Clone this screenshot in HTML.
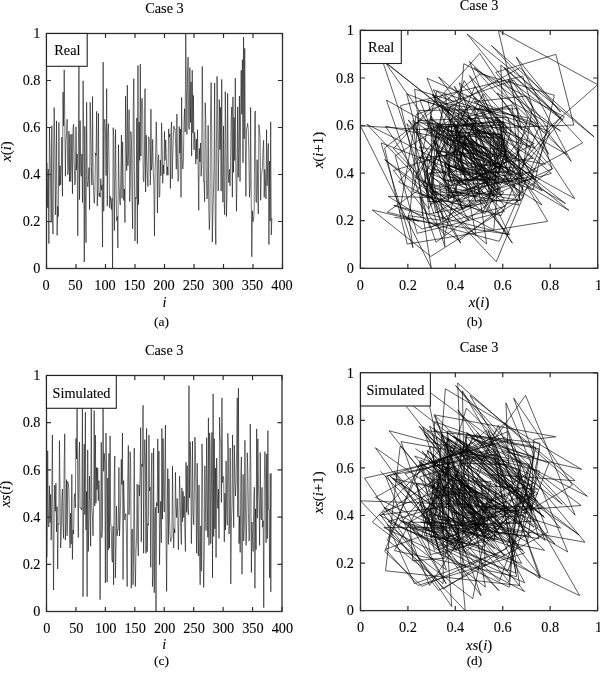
<!DOCTYPE html><html><head><meta charset="utf-8"><style>html,body{margin:0;padding:0;background:#fff;}svg{display:block;}text{stroke:#000;stroke-width:0.1px;}</style></head><body>
<svg width="600" height="685" viewBox="0 0 600 685" font-family="'Liberation Serif', 'Times New Roman', serif" font-size="14.3" fill="#000">
<rect width="600" height="685" fill="#fff"/>
<clipPath id="clipa"><rect x="46.5" y="33.5" width="236.0" height="235.0"/></clipPath>
<path d="M47.09,162.87 L47.68,207.78 L48.27,169.17 L48.86,243.66 L49.45,128.04 L50.04,152.60 L50.63,185.00 L51.22,222.56 L51.81,125.69 L52.40,212.29 L52.99,234.03 L53.58,157.34 L54.17,107.55 L54.76,145.24 L55.35,214.78 L55.94,178.50 L56.53,120.87 L57.12,235.44 L57.71,206.37 L58.30,216.52 L58.89,122.42 L59.48,185.90 L60.07,165.76 L60.66,184.84 L61.25,166.82 L61.84,137.13 L62.43,196.38 L63.02,92.16 L63.61,126.04 L64.20,69.90 L64.79,119.44 L65.38,176.26 L65.97,140.28 L66.56,133.42 L67.15,119.28 L67.74,174.64 L68.33,169.19 L68.92,131.19 L69.51,181.46 L70.10,134.48 L70.69,181.50 L71.28,167.12 L71.87,133.99 L72.46,193.77 L73.05,127.29 L73.64,124.19 L74.23,163.67 L74.82,185.00 L75.41,181.20 L76.00,126.80 L76.59,170.06 L77.18,154.01 L77.77,235.79 L78.36,150.27 L78.95,56.25 L79.54,199.67 L80.13,120.69 L80.72,172.76 L81.31,176.26 L81.90,153.98 L82.49,202.51 L83.08,80.76 L83.67,133.96 L84.26,262.04 L84.85,126.35 L85.44,193.65 L86.03,242.77 L86.62,102.31 L87.21,181.60 L87.80,186.77 L88.39,180.52 L88.98,167.61 L89.57,209.51 L90.16,102.31 L90.75,130.65 L91.34,167.40 L91.93,185.00 L92.52,96.53 L93.11,177.30 L93.70,193.61 L94.29,203.38 L94.88,192.27 L95.47,152.97 L96.06,155.39 L96.65,111.40 L97.24,206.01 L97.83,187.19 L98.42,113.33 L99.01,196.26 L99.60,192.90 L100.19,197.27 L100.78,178.71 L101.37,190.06 L101.96,184.79 L102.55,247.16 L103.14,62.03 L103.73,211.28 L104.32,122.52 L104.91,119.28 L105.50,131.85 L106.09,175.60 L106.68,88.65 L107.27,206.01 L107.86,130.88 L108.45,123.65 L109.04,161.97 L109.63,207.78 L110.22,196.14 L110.81,200.91 L111.40,209.51 L111.99,198.26 L112.58,268.50 L113.17,127.69 L113.76,136.38 L114.35,230.52 L114.94,183.17 L115.53,129.43 L116.12,190.27 L116.71,220.75 L117.30,216.49 L117.89,248.03 L118.48,144.66 L119.07,183.29 L119.66,199.01 L120.25,205.14 L120.84,174.95 L121.43,135.04 L122.02,198.33 L122.61,141.86 L123.20,182.40 L123.79,200.56 L124.38,188.88 L124.97,222.65 L125.56,96.17 L126.15,145.08 L126.74,170.65 L127.33,85.15 L127.92,165.76 L128.51,150.69 L129.10,109.64 L129.69,201.64 L130.28,184.98 L130.87,131.54 L131.46,140.66 L132.05,199.88 L132.64,228.78 L133.23,107.76 L133.82,78.67 L134.41,170.50 L135.00,241.03 L135.59,197.34 L136.18,198.68 L136.77,117.98 L137.36,243.66 L137.95,65.48 L138.54,204.56 L139.13,121.93 L139.72,160.49 L140.31,64.14 L140.90,156.01 L141.49,103.98 L142.08,98.27 L142.67,109.03 L143.26,179.76 L143.85,181.78 L144.44,155.11 L145.03,88.65 L145.62,192.01 L146.21,135.04 L146.80,159.20 L147.39,178.35 L147.98,186.49 L148.57,136.78 L149.16,139.44 L149.75,140.66 L150.34,185.00 L150.93,109.12 L151.52,170.11 L152.11,164.00 L152.70,139.41 L153.29,172.53 L153.88,184.96 L154.47,235.79 L155.06,171.92 L155.65,152.74 L156.24,121.91 L156.83,146.84 L157.42,213.02 L158.01,159.69 L158.60,154.90 L159.19,197.27 L159.78,195.46 L160.37,159.93 L160.96,175.79 L161.55,122.78 L162.14,142.87 L162.73,183.27 L163.32,164.94 L163.91,173.91 L164.50,131.47 L165.09,160.49 L165.68,139.93 L166.27,153.44 L166.86,175.39 L167.45,166.79 L168.04,175.16 L168.63,128.79 L169.22,137.09 L169.81,133.96 L170.40,188.51 L170.99,130.46 L171.58,121.91 L172.17,178.89 L172.76,157.23 L173.35,135.04 L173.94,126.14 L174.53,129.03 L175.12,128.91 L175.71,147.33 L176.30,169.26 L176.89,114.03 L177.48,158.73 L178.07,181.39 L178.66,178.05 L179.25,126.49 L179.84,153.23 L180.43,128.91 L181.02,197.27 L181.61,97.40 L182.20,159.81 L182.79,169.00 L183.38,162.26 L183.97,122.54 L184.56,108.77 L185.15,131.89 L185.74,33.50 L186.33,87.08 L186.92,134.43 L187.51,74.93 L188.10,57.14 L188.69,127.01 L189.28,129.45 L189.87,67.65 L190.46,122.47 L191.05,81.82 L191.64,155.84 L192.23,70.25 L192.82,132.91 L193.41,95.38 L194.00,149.87 L194.59,132.36 L195.18,140.28 L195.77,164.00 L196.36,139.09 L196.95,159.06 L197.54,129.78 L198.13,166.63 L198.72,210.38 L199.31,148.51 L199.90,161.76 L200.49,142.92 L201.08,176.26 L201.67,166.06 L202.26,66.40 L202.85,118.81 L203.44,181.50 L204.03,181.22 L204.62,201.64 L205.21,102.64 L205.80,119.86 L206.39,179.53 L206.98,199.03 L207.57,192.01 L208.16,125.41 L208.75,207.33 L209.34,229.65 L209.93,213.18 L210.52,116.64 L211.11,82.52 L211.70,131.03 L212.29,241.90 L212.88,212.90 L213.47,192.59 L214.06,165.76 L214.65,83.04 L215.24,222.13 L215.83,244.53 L216.42,149.66 L217.01,76.39 L217.60,97.56 L218.19,190.90 L218.78,155.25 L219.37,99.68 L219.96,149.64 L220.55,107.34 L221.14,191.14 L221.73,79.37 L222.32,174.69 L222.91,202.16 L223.50,125.93 L224.09,200.16 L224.68,214.78 L225.27,91.62 L225.86,129.17 L226.45,216.52 L227.04,192.88 L227.63,93.38 L228.22,172.76 L228.81,182.61 L229.40,169.33 L229.99,185.90 L230.58,160.87 L231.17,118.48 L231.76,107.03 L232.35,197.27 L232.94,96.88 L233.53,172.43 L234.12,117.61 L234.71,160.49 L235.30,78.15 L235.89,169.92 L236.48,211.28 L237.07,178.52 L237.66,106.89 L238.25,177.23 L238.84,146.32 L239.43,95.96 L240.02,181.50 L240.61,110.53 L241.20,70.25 L241.79,114.25 L242.38,59.75 L242.97,162.89 L243.56,37.00 L244.15,138.73 L244.74,48.38 L245.33,144.56 L245.92,196.38 L246.51,128.91 L247.10,126.89 L247.69,123.41 L248.28,129.78 L248.87,154.20 L249.46,197.27 L250.05,186.77 L250.64,107.38 L251.23,198.75 L251.82,256.77 L252.41,210.85 L253.00,221.78 L253.59,219.10 L254.18,210.64 L254.77,112.69 L255.36,110.89 L255.95,201.34 L256.54,202.51 L257.13,159.72 L257.72,193.70 L258.31,213.89 L258.90,124.54 L259.49,130.01 L260.08,137.37 L260.67,200.26 L261.26,174.52 L261.85,172.76 L262.44,166.70 L263.03,150.13 L263.62,140.28 L264.21,197.27 L264.80,169.40 L265.39,179.04 L265.98,199.01 L266.57,129.78 L267.16,185.80 L267.75,158.33 L268.34,143.43 L268.93,244.53 L269.52,161.08 L270.11,221.10 L270.70,121.91 L271.29,234.90 L271.88,218.09" fill="none" stroke="#000" stroke-width="0.55" stroke-linejoin="miter" clip-path="url(#clipa)"/>
<rect x="46.5" y="33.5" width="236.0" height="235.0" fill="none" stroke="#2e2e2e" stroke-width="1.3"/>
<text x="46.00" y="290.1" text-anchor="middle">0</text>
<text x="75.50" y="290.1" text-anchor="middle">50</text>
<text x="105.00" y="290.1" text-anchor="middle">100</text>
<text x="134.50" y="290.1" text-anchor="middle">150</text>
<text x="164.00" y="290.1" text-anchor="middle">200</text>
<text x="193.50" y="290.1" text-anchor="middle">250</text>
<text x="223.00" y="290.1" text-anchor="middle">300</text>
<text x="252.50" y="290.1" text-anchor="middle">350</text>
<text x="282.00" y="290.1" text-anchor="middle">400</text>
<text x="40.5" y="273.20" text-anchor="end">0</text>
<text x="40.5" y="226.20" text-anchor="end">0.2</text>
<text x="40.5" y="179.20" text-anchor="end">0.4</text>
<text x="40.5" y="132.20" text-anchor="end">0.6</text>
<text x="40.5" y="85.20" text-anchor="end">0.8</text>
<text x="40.5" y="38.20" text-anchor="end">1</text>
<path d="M46.50,268.5v-4.5M46.50,33.5v4.5M76.00,268.5v-4.5M76.00,33.5v4.5M105.50,268.5v-4.5M105.50,33.5v4.5M135.00,268.5v-4.5M135.00,33.5v4.5M164.50,268.5v-4.5M164.50,33.5v4.5M194.00,268.5v-4.5M194.00,33.5v4.5M223.50,268.5v-4.5M223.50,33.5v4.5M253.00,268.5v-4.5M253.00,33.5v4.5M282.50,268.5v-4.5M282.50,33.5v4.5M46.5,268.50h4.5M282.5,268.50h-4.5M46.5,221.50h4.5M282.5,221.50h-4.5M46.5,174.50h4.5M282.5,174.50h-4.5M46.5,127.50h4.5M282.5,127.50h-4.5M46.5,80.50h4.5M282.5,80.50h-4.5M46.5,33.50h4.5M282.5,33.50h-4.5" stroke="#2e2e2e" stroke-width="1.2" fill="none"/>
<rect x="46.5" y="33.5" width="40.7" height="32.8" fill="#fff" stroke="#222" stroke-width="1.1"/>
<text x="54.3" y="55.0">Real</text>
<text x="164.5" y="12.6" text-anchor="middle">Case 3</text>
<text x="164.5" y="306.6" text-anchor="middle" font-style="italic">i</text>
<text transform="translate(11.0,151.5) rotate(-90)" text-anchor="middle" font-size="14.9"><tspan font-style="italic">x</tspan>(<tspan font-style="italic">i</tspan>)</text>
<text x="161.5" y="326.4" text-anchor="middle" font-size="13.5">(a)</text>
<clipPath id="clipb"><rect x="360.4" y="30.4" width="237.3" height="237.9"/></clipPath>
<path d="M467.07,206.83 L421.72,167.74 L460.71,243.15 L385.48,126.11 L502.23,150.97 L477.44,183.77 L444.71,221.79 L406.79,123.73 L504.61,211.39 L417.16,233.40 L395.21,155.77 L472.64,105.36 L522.93,143.52 L484.86,213.92 L414.65,177.18 L451.29,118.85 L509.47,234.83 L393.79,205.40 L423.14,215.68 L412.89,120.42 L507.91,184.68 L443.81,164.29 L464.15,183.61 L444.88,165.36 L463.08,135.31 L493.05,195.29 L433.23,89.78 L538.47,124.09 L504.25,67.25 L560.94,117.40 L510.92,174.92 L453.54,138.50 L489.87,131.56 L496.80,117.23 L511.09,173.28 L455.18,167.76 L460.68,129.30 L499.05,180.18 L448.30,132.63 L495.73,180.23 L448.25,165.67 L462.77,132.13 L496.23,192.65 L435.86,125.35 L502.99,122.21 L506.13,162.17 L466.26,183.77 L444.71,179.92 L448.56,124.85 L503.49,168.64 L459.80,152.40 L476.01,235.18 L393.43,148.61 L479.79,53.43 L574.73,198.62 L429.91,118.66 L509.66,171.38 L457.08,174.92 L453.54,152.37 L476.04,201.50 L427.03,78.24 L549.98,132.10 L496.25,261.76 L366.93,124.39 L503.94,192.53 L435.98,242.25 L386.38,100.06 L528.22,180.32 L448.15,185.56 L442.93,179.23 L449.25,166.17 L462.27,208.59 L419.96,100.06 L528.22,128.75 L499.60,165.96 L462.49,183.77 L444.71,94.20 L534.06,175.97 L452.50,192.48 L436.03,202.38 L426.16,191.13 L437.38,151.35 L477.06,153.80 L474.61,109.26 L519.04,205.04 L423.50,185.99 L442.51,111.21 L517.09,195.17 L433.35,191.77 L436.74,196.19 L432.33,177.40 L451.07,188.89 L439.61,183.56 L444.93,246.70 L381.95,59.28 L568.89,210.37 L418.18,120.52 L507.81,117.23 L511.09,129.96 L498.39,174.26 L454.20,86.24 L542.01,205.04 L423.50,128.99 L499.36,121.66 L506.67,160.46 L467.97,206.83 L421.72,195.05 L433.46,199.88 L428.65,208.59 L419.96,197.19 L431.33,268.30 L360.40,125.75 L502.59,134.55 L493.81,229.86 L398.75,181.92 L446.56,127.51 L500.83,189.10 L439.40,219.96 L408.62,215.65 L412.91,247.58 L381.07,142.93 L485.46,182.04 L446.44,197.95 L430.57,204.16 L424.38,173.59 L454.87,133.20 L495.16,197.26 L431.26,140.10 L488.28,181.13 L447.35,199.52 L429.00,187.70 L440.80,221.89 L406.70,93.85 L534.41,143.35 L485.03,169.24 L459.21,82.69 L545.54,164.29 L464.15,149.04 L479.36,107.48 L520.81,200.62 L427.91,183.75 L444.74,129.65 L498.70,138.88 L489.49,198.83 L429.69,228.09 L400.50,105.58 L522.71,76.12 L552.09,169.10 L459.35,240.49 L388.14,196.26 L432.25,197.62 L430.90,115.93 L512.39,243.15 L385.48,62.78 L565.40,203.57 L424.97,119.92 L508.40,158.96 L469.46,61.42 L566.76,154.42 L474.00,101.75 L526.53,95.97 L532.30,106.86 L521.43,178.47 L450.00,180.51 L447.96,153.51 L474.90,86.24 L542.01,190.86 L437.64,133.20 L495.16,157.65 L470.77,177.04 L451.43,185.27 L443.22,134.96 L493.41,137.65 L490.73,138.88 L489.49,183.77 L444.71,106.96 L521.34,168.69 L459.76,162.51 L465.93,137.62 L490.75,171.14 L457.31,183.73 L444.76,235.18 L393.43,170.52 L457.93,151.11 L477.29,119.90 L508.43,145.14 L483.25,212.13 L416.43,158.15 L470.27,153.30 L475.11,196.19 L432.33,194.36 L434.15,158.39 L470.03,174.45 L454.01,120.78 L507.55,141.12 L487.26,182.01 L446.47,163.46 L464.98,172.55 L455.91,129.58 L498.77,158.96 L469.46,138.14 L490.23,151.82 L476.58,174.04 L454.42,165.34 L463.10,173.81 L454.66,126.87 L501.47,135.27 L493.10,132.10 L496.25,187.32 L441.18,128.56 L499.79,119.90 L508.43,177.59 L450.88,155.65 L472.76,133.20 L495.16,124.18 L504.16,127.11 L501.24,126.99 L501.36,145.64 L482.75,167.83 L460.61,111.93 L516.38,157.18 L471.24,180.11 L448.37,176.73 L451.74,124.54 L503.80,151.61 L476.80,126.99 L501.36,196.19 L432.33,95.09 L533.18,158.27 L470.15,167.57 L460.87,160.75 L467.68,120.54 L507.79,106.60 L521.69,130.01 L498.34,30.40 L597.70,84.64 L543.60,132.58 L495.78,72.34 L555.86,54.33 L573.83,125.06 L503.28,127.53 L500.81,64.97 L563.22,120.47 L507.86,79.31 L548.91,154.25 L474.16,67.61 L560.59,131.03 L497.32,93.04 L535.22,148.21 L480.19,130.48 L497.87,138.50 L489.87,162.51 L465.93,137.29 L491.08,157.51 L470.91,127.87 L500.48,165.17 L463.27,209.47 L419.08,146.83 L481.57,160.25 L468.18,141.17 L487.21,174.92 L453.54,164.60 L463.84,63.71 L564.48,116.76 L511.56,180.23 L448.25,179.94 L448.53,200.62 L427.91,100.39 L527.89,117.83 L510.49,178.23 L450.24,197.98 L430.55,190.86 L437.64,123.44 L504.89,206.37 L422.17,228.98 L399.63,212.30 L416.26,114.57 L513.74,80.03 L548.20,129.13 L499.22,241.37 L387.26,212.01 L416.55,191.46 L437.05,164.29 L464.15,80.55 L547.68,221.36 L407.22,244.03 L384.60,147.99 L480.40,73.82 L554.39,95.25 L533.01,189.75 L438.76,153.66 L474.75,97.39 L530.88,147.97 L480.43,105.15 L523.14,189.98 L438.52,76.84 L551.38,173.33 L455.13,201.14 L427.39,123.97 L504.37,199.12 L429.41,213.92 L414.65,89.23 L539.02,127.25 L501.10,215.68 L412.89,191.74 L436.76,91.02 L537.24,171.38 L457.08,181.35 L447.13,167.91 L460.54,184.68 L443.81,159.34 L469.08,116.42 L511.89,104.84 L523.45,196.19 L432.33,94.56 L533.70,171.05 L457.41,115.54 L512.77,158.96 L469.46,75.60 L552.61,168.50 L459.95,210.37 L418.18,177.21 L451.26,104.70 L523.59,175.90 L452.57,144.62 L483.77,93.63 L534.63,180.23 L448.25,108.38 L519.91,67.61 L560.59,112.14 L516.16,56.97 L571.19,161.39 L467.04,33.94 L594.16,136.93 L491.44,45.46 L582.68,142.83 L485.55,195.29 L433.23,126.99 L501.36,124.94 L503.40,121.42 L506.91,127.87 L500.48,152.59 L475.82,196.19 L432.33,185.56 L442.93,105.20 L523.09,197.69 L430.83,256.43 L372.24,209.94 L418.61,221.01 L407.58,218.29 L410.28,209.73 L418.82,110.57 L517.73,108.74 L519.56,200.31 L428.22,201.50 L427.03,158.18 L470.25,192.58 L435.93,213.01 L415.55,122.56 L505.77,128.11 L500.24,135.55 L492.81,199.21 L429.31,173.16 L455.30,171.38 L457.08,165.24 L463.20,148.47 L479.93,138.50 L489.87,196.19 L432.33,167.98 L460.47,177.73 L450.74,197.95 L430.57,127.87 L500.48,184.58 L443.91,156.77 L471.65,141.69 L486.69,244.03 L384.60,159.56 L468.87,220.32 L408.26,119.90 L508.43,234.28 L394.33,217.27" fill="none" stroke="#000" stroke-width="0.65" stroke-linejoin="miter" clip-path="url(#clipb)"/>
<rect x="360.4" y="30.4" width="237.3" height="237.9" fill="none" stroke="#2e2e2e" stroke-width="1.3"/>
<text x="360.40" y="289.9" text-anchor="middle">0</text>
<text x="407.86" y="289.9" text-anchor="middle">0.2</text>
<text x="455.32" y="289.9" text-anchor="middle">0.4</text>
<text x="502.78" y="289.9" text-anchor="middle">0.6</text>
<text x="550.24" y="289.9" text-anchor="middle">0.8</text>
<text x="598.70" y="289.9" text-anchor="middle">1</text>
<text x="353.9" y="273.00" text-anchor="end">0</text>
<text x="353.9" y="225.42" text-anchor="end">0.2</text>
<text x="353.9" y="177.84" text-anchor="end">0.4</text>
<text x="353.9" y="130.26" text-anchor="end">0.6</text>
<text x="353.9" y="82.68" text-anchor="end">0.8</text>
<text x="353.9" y="35.10" text-anchor="end">1</text>
<path d="M360.40,268.3v-4.5M360.40,30.4v4.5M407.86,268.3v-4.5M407.86,30.4v4.5M455.32,268.3v-4.5M455.32,30.4v4.5M502.78,268.3v-4.5M502.78,30.4v4.5M550.24,268.3v-4.5M550.24,30.4v4.5M597.70,268.3v-4.5M597.70,30.4v4.5M360.4,268.30h4.5M597.7,268.30h-4.5M360.4,220.72h4.5M597.7,220.72h-4.5M360.4,173.14h4.5M597.7,173.14h-4.5M360.4,125.56h4.5M597.7,125.56h-4.5M360.4,77.98h4.5M597.7,77.98h-4.5M360.4,30.40h4.5M597.7,30.40h-4.5" stroke="#2e2e2e" stroke-width="1.2" fill="none"/>
<rect x="360.5" y="30.5" width="40.8" height="33.0" fill="#fff" stroke="#222" stroke-width="1.1"/>
<text x="368.1" y="52.4">Real</text>
<text x="479.1" y="9.8" text-anchor="middle">Case 3</text>
<text x="479.1" y="307.2" text-anchor="middle" font-size="14.8"><tspan font-style="italic">x</tspan>(<tspan font-style="italic">i</tspan>)</text>
<text transform="translate(323.3,150.1) rotate(-90)" text-anchor="middle" font-size="14.9"><tspan font-style="italic">x</tspan>(<tspan font-style="italic">i</tspan>+1)</text>
<text x="474.5" y="326.4" text-anchor="middle" font-size="13.5">(b)</text>
<clipPath id="clipc"><rect x="46.5" y="375.5" width="235.5" height="236.0"/></clipPath>
<path d="M47.09,556.77 L47.68,450.78 L48.27,524.70 L48.85,527.01 L49.44,485.78 L50.03,522.74 L50.62,494.42 L51.21,540.13 L51.80,494.77 L52.39,435.02 L52.98,528.95 L53.56,590.02 L54.15,514.06 L54.74,485.22 L55.33,511.25 L55.92,483.16 L56.51,531.73 L57.10,506.55 L57.69,569.02 L58.27,523.57 L58.86,524.39 L59.45,440.61 L60.04,488.73 L60.63,548.02 L61.22,536.74 L61.81,500.06 L62.40,489.04 L62.98,524.20 L63.57,538.39 L64.16,464.94 L64.75,433.79 L65.34,540.13 L65.93,522.83 L66.52,479.67 L67.11,535.77 L67.69,481.42 L68.28,483.52 L68.87,489.58 L69.46,528.81 L70.05,548.02 L70.64,513.18 L71.23,544.15 L71.82,474.41 L72.41,559.39 L72.99,530.01 L73.58,534.02 L74.17,497.42 L74.76,493.64 L75.35,507.75 L75.94,438.51 L76.53,459.02 L77.12,400.56 L77.70,487.01 L78.29,537.51 L78.88,462.51 L79.47,442.03 L80.06,508.04 L80.65,508.27 L81.24,507.75 L81.82,510.04 L82.41,393.34 L83.00,596.68 L83.59,499.21 L84.18,444.22 L84.77,514.76 L85.36,412.27 L85.95,529.80 L86.53,491.56 L87.12,596.68 L87.71,449.91 L88.30,551.51 L88.89,517.93 L89.48,476.15 L90.07,513.35 L90.66,546.27 L91.25,391.93 L91.83,507.19 L92.42,515.68 L93.01,535.77 L93.60,506.08 L94.19,410.52 L94.78,506.01 L95.37,435.02 L95.95,503.27 L96.54,467.54 L97.13,489.61 L97.72,467.94 L98.31,500.75 L98.90,480.54 L99.49,499.75 L100.08,599.65 L100.66,523.59 L101.25,442.29 L101.84,537.73 L102.43,527.01 L103.02,391.41 L103.61,471.29 L104.20,453.19 L104.79,463.65 L105.38,583.04 L105.96,433.04 L106.55,473.16 L107.14,582.14 L107.73,478.02 L108.32,550.07 L108.91,453.40 L109.50,548.02 L110.09,435.89 L110.67,522.41 L111.26,527.44 L111.85,559.39 L112.44,562.13 L113.03,526.28 L113.62,584.78 L114.21,477.90 L114.80,456.02 L115.38,577.78 L115.97,552.00 L116.56,506.15 L117.15,535.77 L117.74,529.30 L118.33,529.58 L118.92,467.40 L119.50,535.98 L120.09,520.07 L120.68,499.00 L121.27,459.52 L121.86,484.53 L122.45,432.92 L123.04,579.52 L123.63,480.54 L124.22,501.76 L124.80,520.00 L125.39,513.87 L125.98,513.91 L126.57,542.78 L127.16,586.53 L127.75,478.28 L128.34,445.52 L128.93,514.76 L129.51,504.73 L130.10,451.66 L130.69,463.39 L131.28,588.28 L131.87,529.11 L132.46,529.25 L133.05,584.78 L133.63,541.48 L134.22,448.14 L134.81,554.41 L135.40,586.53 L135.99,550.56 L136.58,537.51 L137.17,484.04 L137.76,541.76 L138.34,555.90 L138.93,484.91 L139.52,495.86 L140.11,474.41 L140.70,427.66 L141.29,541.88 L141.88,464.05 L142.47,466.74 L143.06,405.26 L143.64,553.28 L144.23,467.99 L144.82,439.60 L145.41,459.54 L146.00,553.28 L146.59,428.36 L147.18,551.70 L147.76,523.66 L148.35,525.27 L148.94,435.02 L149.53,491.07 L150.12,487.29 L150.71,567.27 L151.30,475.59 L151.89,452.88 L152.48,586.53 L153.06,571.97 L153.65,448.14 L154.24,592.67 L154.83,516.65 L155.42,507.24 L156.01,611.50 L156.60,502.56 L157.19,506.27 L157.77,438.87 L158.36,513.02 L158.95,451.11 L159.54,564.65 L160.13,525.12 L160.72,501.29 L161.31,542.78 L161.89,428.36 L162.48,519.13 L163.07,438.51 L163.66,494.63 L164.25,511.96 L164.84,467.68 L165.43,425.04 L166.02,533.86 L166.61,591.44 L167.19,517.01 L167.78,468.63 L168.37,544.52 L168.96,478.77 L169.55,517.15 L170.14,536.74 L170.73,541.67 L171.31,538.39 L171.90,538.17 L172.49,466.17 L173.08,514.93 L173.67,548.02 L174.26,528.66 L174.85,532.89 L175.44,472.31 L176.03,506.01 L176.61,517.57 L177.20,498.46 L177.79,519.04 L178.38,549.76 L178.97,515.99 L179.56,476.15 L180.15,495.18 L180.73,525.93 L181.32,544.52 L181.91,487.95 L182.50,521.75 L183.09,491.40 L183.68,517.57 L184.27,496.33 L184.86,533.97 L185.44,551.51 L186.03,462.16 L186.62,512.36 L187.21,465.56 L187.80,509.52 L188.39,514.76 L188.98,385.65 L189.57,498.08 L190.16,441.67 L190.74,461.88 L191.33,543.65 L191.92,513.70 L192.51,441.16 L193.10,509.19 L193.69,524.79 L194.28,499.00 L194.87,437.12 L195.45,449.39 L196.04,507.31 L196.63,553.28 L197.22,463.22 L197.81,531.78 L198.40,556.06 L198.99,484.91 L199.58,557.76 L200.16,584.78 L200.75,525.88 L201.34,571.17 L201.93,443.77 L202.52,466.29 L203.11,550.21 L203.70,587.40 L204.28,552.76 L204.87,465.79 L205.46,509.50 L206.05,530.65 L206.64,437.64 L207.23,494.14 L207.82,537.14 L208.41,417.86 L208.99,545.40 L209.58,432.92 L210.17,445.31 L210.76,543.65 L211.35,486.30 L211.94,432.40 L212.53,577.78 L213.12,393.88 L213.70,536.48 L214.29,438.70 L214.88,528.76 L215.47,468.11 L216.06,557.64 L216.65,458.12 L217.24,494.00 L217.83,508.44 L218.41,489.06 L219.00,538.39 L219.59,417.15 L220.18,438.98 L220.77,441.58 L221.36,502.49 L221.95,397.90 L222.54,482.64 L223.12,476.32 L223.71,477.90 L224.30,541.88 L224.89,493.12 L225.48,530.03 L226.07,460.91 L226.66,508.23 L227.25,525.27 L227.84,433.27 L228.42,451.11 L229.01,534.02 L229.60,520.78 L230.19,448.00 L230.78,583.91 L231.37,523.21 L231.96,504.99 L232.55,435.02 L233.13,495.51 L233.72,527.58 L234.31,445.17 L234.90,475.09 L235.49,495.95 L236.08,482.41 L236.67,447.24 L237.26,397.90 L237.84,516.84 L238.43,388.10 L239.02,543.65 L239.61,515.90 L240.20,552.41 L240.79,478.70 L241.38,456.90 L241.97,574.28 L242.55,527.77 L243.14,474.41 L243.73,541.01 L244.32,524.82 L244.91,440.28 L245.50,506.65 L246.09,545.40 L246.67,525.08 L247.26,452.79 L247.85,471.53 L248.44,512.55 L249.03,541.01 L249.62,537.82 L250.21,424.00 L250.80,465.18 L251.38,572.54 L251.97,522.03 L252.56,537.92 L253.15,551.51 L253.74,503.91 L254.33,487.18 L254.92,588.28 L255.51,508.77 L256.10,549.67 L256.68,428.88 L257.27,518.26 L257.86,438.87 L258.45,484.72 L259.04,502.80 L259.63,545.40 L260.22,452.53 L260.81,517.69 L261.39,520.00 L261.98,487.36 L262.57,527.13 L263.16,520.66 L263.75,607.54 L264.34,480.07 L264.93,451.66 L265.51,479.79 L266.10,542.78 L266.69,453.92 L267.28,538.60 L267.87,430.65 L268.46,509.74 L269.05,509.50 L269.64,577.78 L270.23,473.53 L270.81,591.77 L271.40,473.18" fill="none" stroke="#000" stroke-width="0.55" stroke-linejoin="miter" clip-path="url(#clipc)"/>
<rect x="46.5" y="375.5" width="235.5" height="236.0" fill="none" stroke="#2e2e2e" stroke-width="1.3"/>
<text x="46.90" y="633.1" text-anchor="middle">0</text>
<text x="76.34" y="633.1" text-anchor="middle">50</text>
<text x="105.78" y="633.1" text-anchor="middle">100</text>
<text x="135.21" y="633.1" text-anchor="middle">150</text>
<text x="164.65" y="633.1" text-anchor="middle">200</text>
<text x="194.09" y="633.1" text-anchor="middle">250</text>
<text x="223.53" y="633.1" text-anchor="middle">300</text>
<text x="252.96" y="633.1" text-anchor="middle">350</text>
<text x="282.40" y="633.1" text-anchor="middle">400</text>
<text x="40.5" y="616.20" text-anchor="end">0</text>
<text x="40.5" y="569.00" text-anchor="end">0.2</text>
<text x="40.5" y="521.80" text-anchor="end">0.4</text>
<text x="40.5" y="474.60" text-anchor="end">0.6</text>
<text x="40.5" y="427.40" text-anchor="end">0.8</text>
<text x="40.5" y="380.20" text-anchor="end">1</text>
<path d="M46.50,611.5v-4.5M46.50,375.5v4.5M75.94,611.5v-4.5M75.94,375.5v4.5M105.38,611.5v-4.5M105.38,375.5v4.5M134.81,611.5v-4.5M134.81,375.5v4.5M164.25,611.5v-4.5M164.25,375.5v4.5M193.69,611.5v-4.5M193.69,375.5v4.5M223.12,611.5v-4.5M223.12,375.5v4.5M252.56,611.5v-4.5M252.56,375.5v4.5M282.00,611.5v-4.5M282.00,375.5v4.5M46.5,611.50h4.5M282.0,611.50h-4.5M46.5,564.30h4.5M282.0,564.30h-4.5M46.5,517.10h4.5M282.0,517.10h-4.5M46.5,469.90h4.5M282.0,469.90h-4.5M46.5,422.70h4.5M282.0,422.70h-4.5M46.5,375.50h4.5M282.0,375.50h-4.5" stroke="#2e2e2e" stroke-width="1.2" fill="none"/>
<rect x="46.5" y="375.5" width="69.8" height="32.8" fill="#fff" stroke="#222" stroke-width="1.1"/>
<text x="52.5" y="397.5">Simulated</text>
<text x="164.2" y="355.4" text-anchor="middle">Case 3</text>
<text x="164.2" y="649.3" text-anchor="middle" font-style="italic">i</text>
<text transform="translate(10.0,494.0) rotate(-90)" text-anchor="middle" font-size="14.9"><tspan font-style="italic">xs</tspan>(<tspan font-style="italic">i</tspan>)</text>
<text x="161.5" y="665.0" text-anchor="middle" font-size="13.5">(c)</text>
<clipPath id="clipd"><rect x="360.5" y="372.8" width="237.1" height="237.8"/></clipPath>
<path d="M415.48,448.66 L521.97,523.14 L447.71,525.47 L445.38,483.92 L486.80,521.16 L449.67,492.63 L478.13,538.69 L432.20,492.98 L477.77,432.77 L537.80,527.42 L443.44,588.96 L382.08,512.41 L458.40,483.35 L487.37,509.58 L461.22,481.28 L489.43,530.22 L440.64,504.85 L465.94,567.80 L403.18,522.00 L448.84,522.83 L448.01,438.41 L532.18,486.90 L483.84,546.63 L424.28,535.26 L435.61,498.31 L472.46,487.21 L483.53,522.64 L448.20,536.93 L433.95,462.93 L507.74,431.54 L539.04,538.69 L432.20,521.26 L449.58,477.76 L492.94,534.29 L436.59,479.52 L491.19,481.64 L489.08,487.75 L482.99,527.27 L443.58,546.63 L424.28,511.53 L459.28,542.73 L428.17,472.46 L498.23,558.09 L412.85,528.49 L442.37,532.53 L438.34,495.65 L475.11,491.84 L478.91,506.06 L464.73,436.29 L534.29,456.96 L513.69,398.05 L572.42,485.16 L485.57,536.05 L434.83,460.48 L510.18,439.84 L530.76,506.35 L464.44,506.59 L464.21,506.06 L464.73,508.37 L462.43,390.78 L579.68,595.67 L375.39,497.45 L473.31,442.05 L528.56,513.13 L457.69,409.85 L560.66,528.27 L442.58,489.75 L480.99,595.67 L375.39,447.78 L522.84,550.15 L420.77,516.31 L454.51,474.22 L496.48,511.70 L459.11,544.87 L426.03,389.35 L581.10,505.49 L465.30,514.05 L456.76,534.29 L436.59,504.37 L466.41,408.09 L562.41,504.30 L466.48,432.77 L537.80,501.54 L469.23,465.54 L505.13,487.78 L482.96,465.95 L504.73,499.00 L471.77,478.64 L492.07,498.00 L472.77,598.66 L372.40,522.02 L448.82,440.10 L530.50,536.26 L434.62,525.47 L445.38,388.83 L581.62,469.32 L501.36,451.08 L519.55,461.62 L509.04,581.92 L389.09,430.78 L539.80,471.20 L499.49,581.02 L390.00,476.10 L494.60,548.70 L422.22,451.30 L519.33,546.63 L424.28,433.65 L536.93,520.83 L450.01,525.90 L444.96,558.09 L412.85,560.85 L410.10,524.73 L446.12,583.68 L387.34,475.98 L494.72,453.94 L516.70,576.62 L394.38,550.65 L420.27,504.45 L466.34,534.29 L436.59,527.77 L443.08,528.06 L442.80,465.40 L505.27,534.50 L436.37,518.48 L452.35,497.24 L473.53,457.46 L513.19,482.66 L488.06,430.66 L539.91,578.38 L392.63,478.64 L492.07,500.02 L470.75,518.40 L452.42,512.22 L458.59,512.27 L458.54,541.35 L429.54,585.44 L385.59,476.36 L494.34,443.36 L527.25,513.13 L457.69,503.02 L467.76,449.54 L521.09,461.36 L509.30,587.20 L383.83,527.58 L443.27,527.73 L443.13,583.68 L387.34,540.04 L430.85,445.99 L524.62,553.08 L417.85,585.44 L385.59,549.20 L421.72,536.05 L434.83,482.16 L488.56,540.33 L430.56,554.57 L416.36,483.04 L487.68,494.08 L476.68,472.46 L498.23,425.35 L545.20,540.45 L430.44,462.02 L508.64,464.73 L505.94,402.79 L567.70,551.93 L418.99,465.99 L504.68,437.39 L533.20,457.48 L513.17,551.93 L418.99,426.07 L544.49,550.34 L420.58,522.09 L448.75,523.71 L447.14,432.77 L537.80,489.25 L481.49,485.45 L485.29,566.04 L404.93,473.65 L497.05,450.77 L519.85,585.44 L385.59,570.77 L400.21,445.99 L524.62,591.62 L379.42,515.03 L455.79,505.54 L465.25,610.60 L360.50,500.83 L469.95,504.56 L466.22,436.65 L533.94,511.37 L459.44,448.99 L521.63,563.40 L407.56,523.57 L447.28,499.55 L471.23,541.35 L429.54,426.07 L544.49,517.53 L453.30,436.29 L534.29,492.84 L477.91,510.30 L460.51,465.68 L504.99,422.71 L547.83,532.36 L438.51,590.39 L380.65,515.38 L455.43,466.64 L504.04,543.11 L427.79,476.86 L493.85,515.53 L455.29,535.26 L435.61,540.23 L430.66,536.93 L433.95,536.72 L434.17,464.16 L506.51,513.29 L457.52,546.63 L424.28,527.13 L443.72,531.39 L439.48,470.35 L500.34,504.30 L466.48,515.96 L454.87,496.69 L474.07,517.43 L453.40,548.39 L422.53,514.36 L456.45,474.22 L496.48,493.39 L477.37,524.37 L446.47,543.11 L427.79,486.11 L484.62,520.16 L450.67,489.58 L481.16,515.96 L454.87,494.55 L476.20,532.48 L438.39,550.15 L420.77,460.12 L510.54,510.70 L460.11,463.54 L507.12,507.85 L462.95,513.13 L457.69,383.03 L587.40,496.31 L474.45,439.48 L531.12,459.83 L510.82,542.23 L428.67,512.06 L458.75,438.96 L531.64,507.51 L463.28,523.23 L447.61,497.24 L473.53,434.89 L535.69,447.26 L523.36,505.61 L465.18,551.93 L418.99,461.19 L509.47,530.27 L440.59,554.74 L416.19,483.04 L487.68,556.45 L414.49,583.68 L387.34,524.33 L446.52,569.96 L401.02,441.60 L529.01,464.28 L506.39,548.84 L422.07,586.32 L384.71,551.41 L419.51,463.78 L506.89,507.82 L462.97,529.13 L441.73,435.41 L535.17,492.34 L478.41,535.67 L435.21,415.49 L555.04,543.99 L426.91,430.66 L539.91,443.14 L527.47,542.23 L428.67,484.45 L486.28,430.13 L540.44,576.62 L394.38,391.32 L579.13,535.00 L435.87,436.48 L534.10,527.23 L443.63,466.11 L504.56,556.33 L414.61,456.05 L514.59,492.20 L478.55,506.75 L464.04,487.23 L483.51,536.93 L433.95,414.77 L555.75,436.77 L533.82,439.38 L531.21,500.76 L470.02,395.37 L575.10,480.76 L489.96,474.39 L496.31,475.98 L494.72,540.45 L430.44,491.32 L479.43,528.51 L442.35,458.86 L511.79,506.54 L464.25,523.71 L447.14,431.01 L539.56,448.99 L521.63,532.53 L438.34,519.19 L451.64,445.85 L524.76,582.80 L388.22,521.64 L449.20,503.28 L467.50,432.77 L537.80,493.72 L477.03,526.04 L444.81,443.00 L527.61,473.15 L497.54,494.17 L476.58,480.52 L490.19,445.09 L525.52,395.37 L575.10,515.22 L455.60,385.50 L584.94,542.23 L428.67,514.27 L456.55,551.05 L419.87,476.79 L493.92,454.82 L515.82,573.10 L397.89,526.23 L444.62,472.46 L498.23,539.57 L431.32,523.26 L447.59,438.08 L532.52,504.95 L465.84,543.99 L426.91,523.52 L447.33,450.68 L519.95,469.56 L501.12,510.89 L459.92,539.57 L431.32,536.36 L434.52,421.67 L548.88,463.16 L507.50,571.34 L399.65,520.45 L450.38,536.45 L434.43,550.15 L420.77,502.19 L468.59,485.33 L485.40,587.20 L383.83,507.09 L463.71,548.30 L422.62,426.59 L543.97,516.65 L454.18,436.65 L533.94,482.85 L487.87,501.07 L469.71,543.99 L426.91,450.42 L520.21,516.07 L454.75,518.40 L452.42,485.52 L485.21,525.59 L445.26,519.07 L451.76,606.60 L364.48,478.17 L492.54,449.54 L521.09,477.88 L492.83,541.35 L429.54,451.82 L518.81,537.14 L433.74,428.37 L542.19,508.06 L462.74,507.82 L462.97,576.62 L394.38,471.58 L499.11,590.72 L380.32,471.23" fill="none" stroke="#000" stroke-width="0.65" stroke-linejoin="miter" clip-path="url(#clipd)"/>
<rect x="360.5" y="372.8" width="237.1" height="237.8" fill="none" stroke="#2e2e2e" stroke-width="1.3"/>
<text x="360.50" y="632.2" text-anchor="middle">0</text>
<text x="407.92" y="632.2" text-anchor="middle">0.2</text>
<text x="455.34" y="632.2" text-anchor="middle">0.4</text>
<text x="502.76" y="632.2" text-anchor="middle">0.6</text>
<text x="550.18" y="632.2" text-anchor="middle">0.8</text>
<text x="598.60" y="632.2" text-anchor="middle">1</text>
<text x="354.0" y="615.30" text-anchor="end">0</text>
<text x="354.0" y="567.74" text-anchor="end">0.2</text>
<text x="354.0" y="520.18" text-anchor="end">0.4</text>
<text x="354.0" y="472.62" text-anchor="end">0.6</text>
<text x="354.0" y="425.06" text-anchor="end">0.8</text>
<text x="354.0" y="377.50" text-anchor="end">1</text>
<path d="M360.50,610.6v-4.5M360.50,372.8v4.5M407.92,610.6v-4.5M407.92,372.8v4.5M455.34,610.6v-4.5M455.34,372.8v4.5M502.76,610.6v-4.5M502.76,372.8v4.5M550.18,610.6v-4.5M550.18,372.8v4.5M597.60,610.6v-4.5M597.60,372.8v4.5M360.5,610.60h4.5M597.6,610.60h-4.5M360.5,563.04h4.5M597.6,563.04h-4.5M360.5,515.48h4.5M597.6,515.48h-4.5M360.5,467.92h4.5M597.6,467.92h-4.5M360.5,420.36h4.5M597.6,420.36h-4.5M360.5,372.80h4.5M597.6,372.80h-4.5" stroke="#2e2e2e" stroke-width="1.2" fill="none"/>
<rect x="360.5" y="372.8" width="69.9" height="33.2" fill="#fff" stroke="#222" stroke-width="1.1"/>
<text x="366.4" y="395.0">Simulated</text>
<text x="479.1" y="352.4" text-anchor="middle">Case 3</text>
<text x="479.1" y="649.9" text-anchor="middle" font-size="14.8"><tspan font-style="italic">xs</tspan>(<tspan font-style="italic">i</tspan>)</text>
<text transform="translate(322.7,492.5) rotate(-90)" text-anchor="middle" font-size="14.9"><tspan font-style="italic">xs</tspan>(<tspan font-style="italic">i</tspan>+1)</text>
<text x="474.5" y="665.0" text-anchor="middle" font-size="13.5">(d)</text>
</svg></body></html>
